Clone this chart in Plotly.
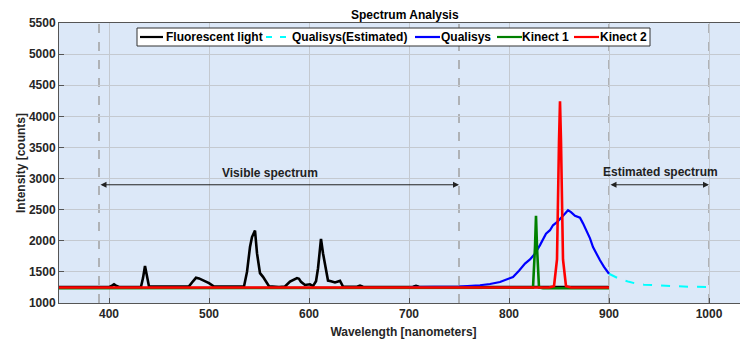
import plotly.graph_objects as go

# Fluorescent light (black)
fluor_x = [350, 400, 403, 405, 407, 410, 432, 434, 436, 438, 440, 450, 470, 480, 483, 487, 490, 495,
           500, 505, 520, 535, 538, 541, 543, 545, 546, 548, 551, 554, 557, 560, 570, 576, 581, 585,
           588, 590, 592, 596, 598, 601, 604, 607, 609, 611, 612, 614, 616, 619, 622, 626, 629, 631,
           634, 640, 648, 651, 654, 680, 704, 707, 710, 750, 800, 850, 900]
fluor_y = [1255, 1255, 1280, 1300, 1280, 1258, 1260, 1400, 1595, 1400, 1265, 1265, 1265, 1268, 1330,
           1405, 1395, 1360, 1320, 1265, 1260, 1265, 1500, 1900, 2060, 2150, 2165, 1800, 1480, 1420,
           1340, 1270, 1258, 1265, 1345, 1380, 1400, 1390, 1340, 1290, 1295, 1300, 1272, 1350, 1555,
           1950, 2030, 1800, 1640, 1360, 1350, 1330, 1345, 1355, 1265, 1260, 1262, 1280, 1262, 1258,
           1262, 1275, 1262, 1258, 1255, 1255, 1255]

# Qualisys measured (blue)
qual_x = [700, 730, 750, 771, 781, 791, 798, 804, 810, 816, 821, 826, 831, 837, 841, 844, 848, 851,
          855, 859, 862, 866, 871, 874, 877, 881, 884, 887, 891, 895, 900]
qual_y = [1255, 1258, 1262, 1285, 1305, 1338, 1375, 1418, 1520, 1633, 1700, 1794, 1930, 2115, 2170,
          2249, 2300, 2357, 2420, 2490, 2460, 2400, 2370, 2280, 2170, 2040, 1900, 1800, 1686, 1580, 1470]

# Qualisys estimated (cyan dashed)
qest_x = [900, 910, 920, 927, 935, 950, 965, 980, 1000]
qest_y = [1470, 1390, 1340, 1312, 1295, 1280, 1270, 1262, 1255]

# Kinect 1 (green)
kin1_x = [350, 820, 824, 826, 827, 828, 830, 834, 900]
kin1_y = [1238, 1238, 1245, 1900, 2400, 1900, 1250, 1238, 1238]

# Kinect 2 (red)
kin2_x = [350, 840, 845, 848, 850, 851, 852, 854, 857, 862, 900]
kin2_y = [1250, 1250, 1270, 1700, 3600, 4240, 3600, 1700, 1270, 1250, 1250]

region_lines = [390, 750, 900, 1000]

FONT = "Arial, Liberation Sans, sans-serif"

# page body has an 8px margin, so the figure is drawn 8px smaller than the window
W, H = 740, 333
L, R, T, B = 51, 0, 15, 38


def to_paper(sx, sy):
    """window pixel -> paper coords of the plot area"""
    px = (sx - 8 - L) / (W - L - R)
    py = (H - B - (sy - 8)) / (H - T - B)
    return px, py


series = [
    ("Fluorescent light", fluor_x, fluor_y, dict(color="black", width=2.6)),
    ("Qualisys(Estimated)", qest_x, qest_y, dict(color="#00ffff", width=2, dash="dash")),
    ("Qualisys", qual_x, qual_y, dict(color="#0000ff", width=2.2)),
    ("Kinect 1", kin1_x, kin1_y, dict(color="#008000", width=2.6)),
    ("Kinect 2", kin2_x, kin2_y, dict(color="#ff0000", width=2.6)),
]

fig = go.Figure()
for name, xs, ys, ln in series:
    fig.add_trace(go.Scatter(x=xs, y=ys, mode="lines", name=name, line=ln, showlegend=False))

for xv in region_lines:
    fig.add_shape(type="line", x0=xv, x1=xv, y0=1000, y1=5500, xref="x", yref="y",
                  line=dict(color="#a0a0a0", width=1.5, dash="dash"), layer="below")

# double-headed arrows
for x0, x1 in [(390, 750), (900, 1000)]:
    fig.add_annotation(x=x1, y=2900, ax=x0, ay=2900, xref="x", yref="y", axref="x", ayref="y",
                       text="", showarrow=True, arrowhead=2, arrowside="end+start",
                       arrowsize=1.2, arrowwidth=1, arrowcolor="#222")

fig.add_annotation(x=561, y=3090, xref="x", yref="y", text="Visible spectrum", showarrow=False,
                   font=dict(family=FONT, size=12, color="#222", weight="bold"))
fig.add_annotation(x=951, y=3100, xref="x", yref="y", text="Estimated spectrum", showarrow=False,
                   font=dict(family=FONT, size=12, color="#222", weight="bold"))

# legend box drawn by hand (matlab style: short sample lines)
bx0, by0 = to_paper(137, 28)
bx1, by1 = to_paper(650, 46)
fig.add_shape(type="rect", x0=bx0, x1=bx1, y0=by1, y1=by0, xref="paper", yref="paper",
              fillcolor="white", line=dict(color="#333", width=1))
legend_slots = [(140, 163, 166), (266, 290, 292), (415, 440, 441), (497, 522, 522), (574, 599, 600)]
for (name, xs, ys, ln), (l0, l1, tx) in zip(series, legend_slots):
    lx0, ly = to_paper(l0, 37)
    lx1, _ = to_paper(l1, 37)
    sl = dict(color=ln["color"], width=2.2)
    if "dash" in ln:
        sl["dash"] = "6px,8px"
    fig.add_shape(type="line", x0=lx0, x1=lx1, y0=ly, y1=ly, xref="paper", yref="paper", line=sl)
    ttx, tty = to_paper(tx, 37)
    fig.add_annotation(x=ttx, y=tty, xref="paper", yref="paper", text=name, showarrow=False,
                       xanchor="left", yanchor="middle", xshift=-2,
                       font=dict(family=FONT, size=12, color="black", weight="bold"))

fig.update_layout(
    width=W, height=H,
    margin=dict(l=L, r=R, t=T, b=B, autoexpand=False),
    paper_bgcolor="white",
    plot_bgcolor="#dce8f8",
    font=dict(family=FONT, size=12, color="#262626", weight="bold"),
    showlegend=False,
)
# title as a paper annotation so it is not pushed above the page
fig.add_annotation(x=(405 - 8 - L) / (W - L - R), y=1, xref="paper", yref="paper",
                   text="Spectrum Analysis", showarrow=False, yanchor="bottom", yshift=-1,
                   font=dict(family=FONT, size=12, color="black", weight="bold"))
fig.update_xaxes(range=[350, 1039], tickvals=[400, 500, 600, 700, 800, 900, 1000],
                 automargin=False,
                 showgrid=True, gridcolor="#c4c9d0", gridwidth=1, zeroline=False,
                 showline=True, linecolor="#555", linewidth=1, mirror=True,
                 ticks="inside", ticklen=5, tickcolor="#555",
                 title=dict(text="Wavelength [nanometers]", standoff=7,
                            font=dict(family=FONT, size=12, color="#262626", weight="bold")))
fig.update_yaxes(range=[1000, 5500], dtick=500,
                 automargin=False,
                 showgrid=True, gridcolor="#c4c9d0", gridwidth=1, zeroline=False,
                 showline=True, linecolor="#555", linewidth=1, mirror=True,
                 ticks="inside", ticklen=5, tickcolor="#555",
                 title=dict(text="Intensity [counts]", standoff=0,
                            font=dict(family=FONT, size=12, color="#262626", weight="bold")))

fig.write_html("out.html")
